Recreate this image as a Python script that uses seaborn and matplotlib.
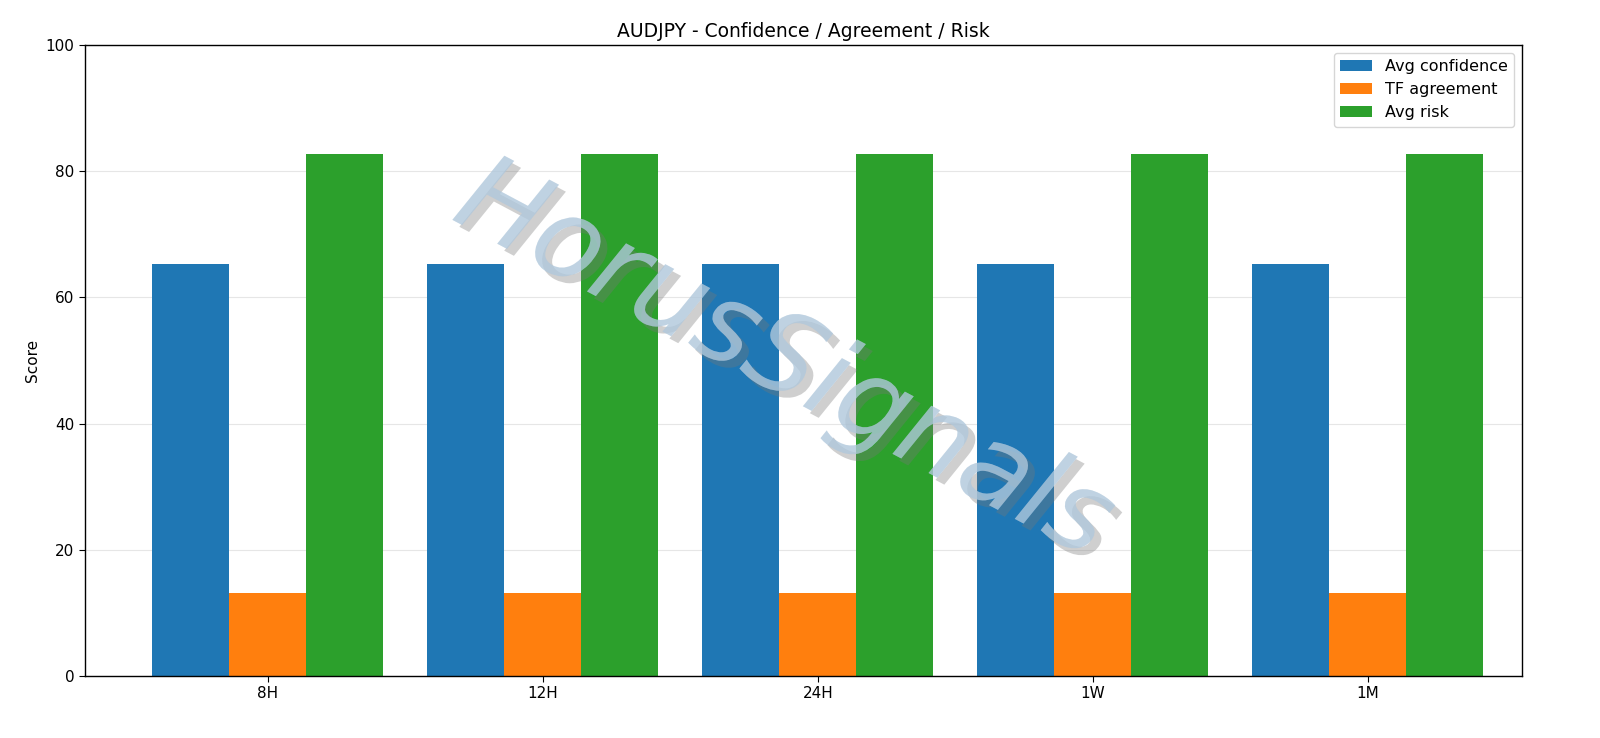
import matplotlib
matplotlib.use("Agg")
import matplotlib.pyplot as plt
import matplotlib.patheffects as pe
import pandas as pd
import seaborn as sns

timeframes = ["8H", "12H", "24H", "1W", "1M"]
avg_confidence = [65.3, 65.3, 65.3, 65.3, 65.3]
tf_agreement = [13.2, 13.2, 13.2, 13.2, 13.2]
avg_risk = [82.8, 82.8, 82.8, 82.8, 82.8]
series_names = ["Avg confidence", "TF agreement", "Avg risk"]
colors = ["#1f77b4", "#ff7f0e", "#2ca02c"]

df = pd.DataFrame({
    "tf": timeframes * 3,
    "metric": [s for s in series_names for _ in timeframes],
    "score": avg_confidence + tf_agreement + avg_risk,
})

sns.set_style("white")
plt.rcParams.update({"text.color": "black", "axes.labelcolor": "black",
                     "xtick.color": "black", "ytick.color": "black"})
fig = plt.figure(figsize=(16, 7.38), dpi=100)
ax = fig.add_axes([85 / 1600, 1 - 676 / 738, (1522 - 85) / 1600, (676 - 45) / 738])

sns.barplot(data=df, x="tf", y="score", hue="metric", palette=colors,
            width=0.84, gap=0, saturation=1, linewidth=0, ax=ax, zorder=2)

ax.set_ylim(0, 100)
ax.set_xlim(-0.665, 4.56)
ax.set_xlabel("")
ax.set_ylabel("Score", fontsize=11)
ax.set_title("AUDJPY - Confidence / Agreement / Risk", fontsize=13.5)
ax.yaxis.grid(True, color="#e6e6e6", lw=0.8, zorder=0)
ax.set_axisbelow(True)
ax.tick_params(axis="both", labelsize=11, length=4, left=True, bottom=True)
for s in ax.spines.values():
    s.set_color("black")
    s.set_linewidth(1)
ax.legend(loc="upper right", fontsize=11.5, frameon=True, fancybox=True)

# watermark
fig.text(0.49, 0.51, "HorusSignals", fontsize=80, color="#b0c8dc", alpha=0.55,
         rotation=-28, ha="center", va="center", fontstyle="italic",
         path_effects=[pe.withSimplePatchShadow(offset=(5, -5), shadow_rgbFace="#777777", alpha=0.35),
                       pe.Normal()])

fig.savefig("out.png", dpi=100)
